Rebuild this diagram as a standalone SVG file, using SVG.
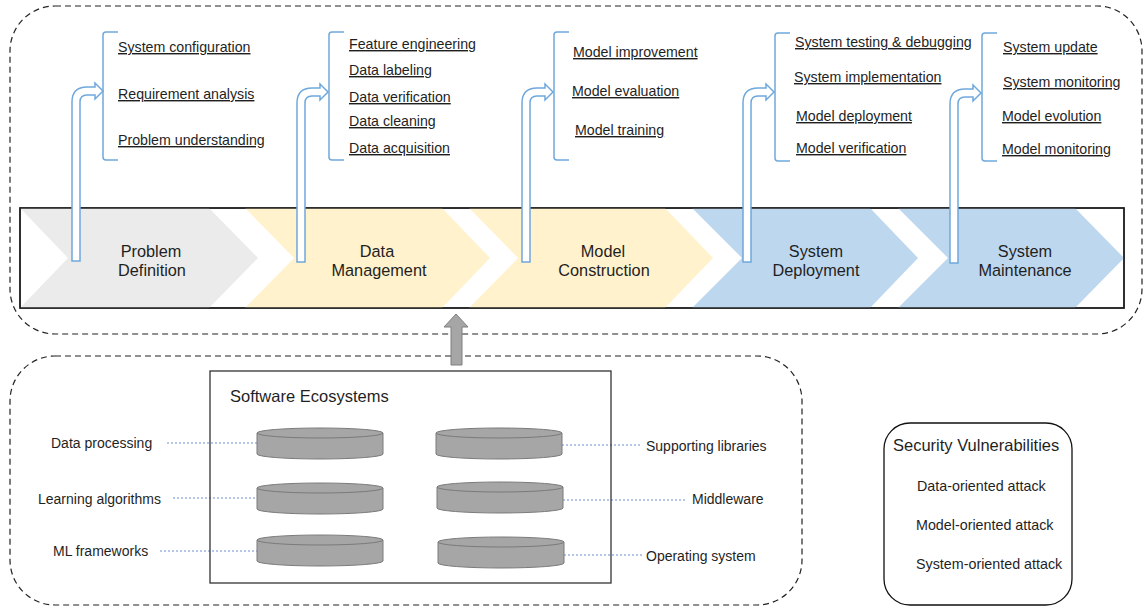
<svg xmlns="http://www.w3.org/2000/svg" width="1145" height="608" viewBox="0 0 1145 608">
<style>
text{font-family:"Liberation Sans",Arial,sans-serif;fill:#1f1f1f}
.st{font-size:16.3px;text-anchor:middle}
.it{font-size:14.2px;text-decoration:underline}
.lb{font-size:14px}
.sv{font-size:14.3px}
.dash{fill:none;stroke:#222;stroke-width:1.2;stroke-dasharray:6 4}
.cur{fill:#fff;stroke:#6fa8dc;stroke-width:1.5}
.br{fill:none;stroke:#6fa8dc;stroke-width:1.5}
.cyl{fill:#a6a6a6;stroke:#7a7a7a;stroke-width:1}
.dot{stroke:#6d8ecf;stroke-width:1;stroke-dasharray:2 2}
</style>
<defs>
<path id="curve" d="M0,174 V15 Q0,0 15,0 H23 V-4 L31,4 L23,12 V8 H15 Q8,8 8,15 V174 Z"/>
<path id="bracket" d="M15,0 H3 Q0,0 0,3 V125 Q0,128 3,128 H15"/>
<g id="cyl">
<path d="M-63,5 V26 A63,5 0 0 0 63,26 V5 Z"/>
<ellipse cx="0" cy="5" rx="63" ry="5"/>
</g>
</defs>

<rect class="dash" x="10" y="6" width="1132" height="328" rx="45"/>
<rect class="dash" x="10" y="356" width="792" height="249" rx="45"/>

<g id="stages">
<rect x="20" y="208" width="1104" height="100" fill="#fff" stroke="#222" stroke-width="1.5"/>
<g id="problem-definition">
<polygon points="20,208 209,208 258,258 209,308 20,308 68,258" fill="#ebebeb"/>
<text class="st" x="151" y="257">Problem</text>
<text class="st" x="152" y="276">Definition</text>
</g>
<g id="data-management">
<polygon points="245,208 442,208 490,258 442,308 245,308 294,258" fill="#fff2cc"/>
<text class="st" x="377" y="257">Data</text>
<text class="st" x="379" y="276">Management</text>
</g>
<g id="model-construction">
<polygon points="469,208 665,208 713,258 665,308 469,308 518,258" fill="#fff2cc"/>
<text class="st" x="603" y="257">Model</text>
<text class="st" x="604" y="276">Construction</text>
</g>
<g id="system-deployment">
<polygon points="692,208 870,208 918,258 870,308 692,308 742,258" fill="#bdd7ee"/>
<text class="st" x="816" y="257">System</text>
<text class="st" x="816" y="276">Deployment</text>
</g>
<g id="system-maintenance">
<polygon points="898,208 1075,208 1124,258 1075,308 898,308 948,258" fill="#bdd7ee"/>
<text class="st" x="1025" y="257">System</text>
<text class="st" x="1025" y="276">Maintenance</text>
</g>
<rect x="20" y="208" width="1104" height="100" fill="none" stroke="#222" stroke-width="1.5"/>
</g>

<g id="connectors">
<use href="#curve" class="cur" transform="translate(72,87)"/>
<use href="#curve" class="cur" transform="translate(297,88)"/>
<use href="#curve" class="cur" transform="translate(522,88)"/>
<use href="#curve" class="cur" transform="translate(743,88)"/>
<use href="#curve" class="cur" transform="translate(950,89)"/>
<path d="M451,365 V327 H444 L456,314 L468,327 H462 V365 Z" fill="#a6a6a6" stroke="#7f7f7f" stroke-width="1"/>
<line class="dot" x1="167" y1="443" x2="257" y2="443"/>
<line class="dot" x1="173" y1="498" x2="258" y2="498"/>
<line class="dot" x1="160" y1="551" x2="257" y2="551"/>
<line class="dot" x1="562" y1="445" x2="641" y2="445"/>
<line class="dot" x1="563" y1="500" x2="687" y2="500"/>
<line class="dot" x1="564" y1="555" x2="642" y2="555"/>
</g>

<g id="pd-items">
<use href="#bracket" class="br" transform="translate(103,32)"/>
<text class="it" x="118" y="52">System configuration</text>
<text class="it" x="118" y="99">Requirement analysis</text>
<text class="it" x="118" y="145">Problem understanding</text>
</g>
<g id="dm-items">
<use href="#bracket" class="br" transform="translate(329,32)"/>
<text class="it" x="349" y="49">Feature engineering</text>
<text class="it" x="349" y="75">Data labeling</text>
<text class="it" x="349" y="102">Data verification</text>
<text class="it" x="349" y="126">Data cleaning</text>
<text class="it" x="349" y="153">Data acquisition</text>
</g>
<g id="mc-items">
<use href="#bracket" class="br" transform="translate(554,32)"/>
<text class="it" x="573" y="57">Model improvement</text>
<text class="it" x="572" y="96">Model evaluation</text>
<text class="it" x="575" y="135">Model training</text>
</g>
<g id="sd-items">
<use href="#bracket" class="br" transform="translate(775,33)"/>
<text class="it" x="795" y="47">System testing &amp; debugging</text>
<text class="it" x="794" y="82">System implementation</text>
<text class="it" x="796" y="121">Model deployment</text>
<text class="it" x="796" y="153">Model verification</text>
</g>
<g id="sm-items">
<use href="#bracket" class="br" transform="translate(982,33)"/>
<text class="it" x="1003" y="52">System update</text>
<text class="it" x="1003" y="87">System monitoring</text>
<text class="it" x="1002" y="121">Model evolution</text>
<text class="it" x="1002" y="154">Model monitoring</text>
</g>

<g id="software-ecosystems">
<rect x="210" y="371" width="401" height="212" fill="none" stroke="#333" stroke-width="1.3"/>
<text x="230" y="402" style="font-size:16.5px">Software Ecosystems</text>
<use href="#cyl" class="cyl" transform="translate(320,428)"/>
<use href="#cyl" class="cyl" transform="translate(320,483)"/>
<use href="#cyl" class="cyl" transform="translate(320,535)"/>
<use href="#cyl" class="cyl" transform="translate(499,428)"/>
<use href="#cyl" class="cyl" transform="translate(500,482)"/>
<use href="#cyl" class="cyl" transform="translate(501,537)"/>
</g>
<g id="eco-labels">
<text class="lb" x="51" y="448">Data processing</text>
<text class="lb" x="38" y="504">Learning algorithms</text>
<text class="lb" x="53" y="556">ML frameworks</text>
<text class="lb" x="646" y="451">Supporting libraries</text>
<text class="lb" x="692" y="504">Middleware</text>
<text class="lb" x="646" y="561">Operating system</text>
</g>

<g id="security-vulnerabilities">
<rect x="884" y="423" width="188" height="182" rx="26" fill="none" stroke="#111" stroke-width="1.3"/>
<text x="893" y="451" style="font-size:16.5px">Security Vulnerabilities</text>
<text class="sv" x="917" y="491">Data-oriented attack</text>
<text class="sv" x="916" y="530">Model-oriented attack</text>
<text class="sv" x="916" y="569">System-oriented attack</text>
</g>
</svg>
